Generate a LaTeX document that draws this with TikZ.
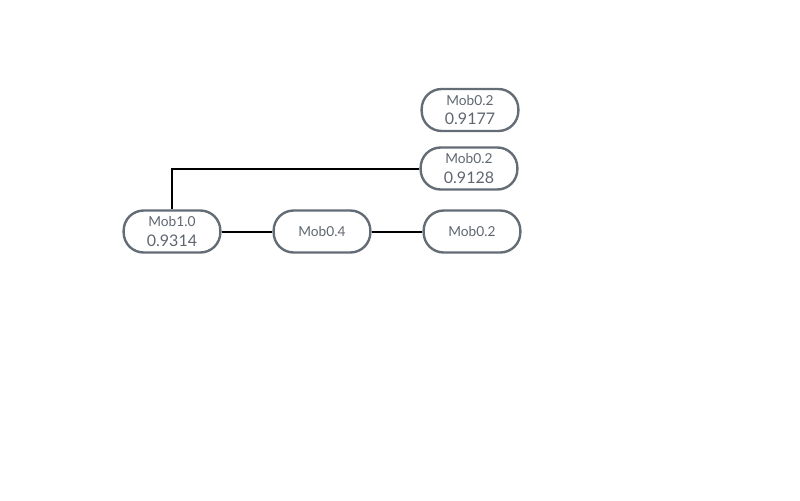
\documentclass[tikz,border=0pt]{standalone}
\usepackage{fontspec}
\setmainfont{Lato}
\definecolor{bordergray}{HTML}{646C75}
\definecolor{textgray}{HTML}{5F6670}
\begin{document}
\begin{tikzpicture}[x=0.75pt,y=-0.75pt,
  mob/.style={draw=bordergray, line width=1.8pt, rounded corners=15pt,
    minimum width=72.5pt, minimum height=31.5pt, inner sep=0pt,
    text=textgray, align=center, font=\fontsize{10.3}{12}\selectfont},
  link/.style={draw=black, line width=1.5pt}]
\useasboundingbox (0,0) rectangle (800,500);
\newcommand{\two}[2]{{\fontsize{10.3}{12}\selectfont #1}\\[2.4pt]{\fontsize{12}{13}\selectfont #2}}
\node[mob] (a) at (172,231.5) {\two{Mob1.0}{0.9314}};
\node[mob] (b) at (322,231.5) {Mob0.4};
\node[mob] (c) at (472,231.5) {Mob0.2};
\node[mob] (d) at (469,168.5) {\two{Mob0.2}{0.9128}};
\node[mob] (e) at (470,110) {\two{Mob0.2}{0.9177}};
\draw[link] (a) -- (b);
\draw[link] (b) -- (c);
\draw[link] (a.north) |- (d.west);
\end{tikzpicture}
\end{document}
